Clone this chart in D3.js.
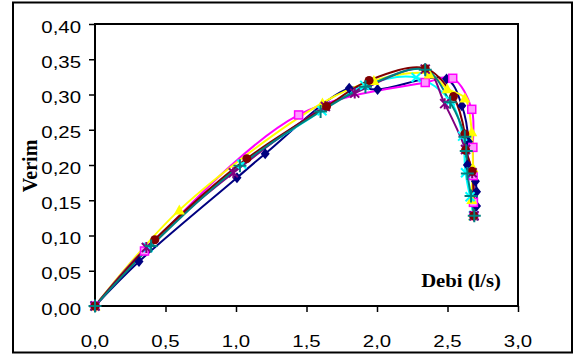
<!DOCTYPE html>
<html>
<head>
<meta charset="utf-8">
<script src="https://cdn.jsdelivr.net/npm/d3@7"></script>
<style>
  body { margin: 0; background: #fff; }
  svg { display: block; }
</style>
</head>
<body>
<svg id="chart" width="574" height="360"></svg>
<script>
// debi (l/s) vs verim, seven runs
const q1 = [0, 0.312, 1.007, 1.207, 1.803, 2.004, 2.493, 2.602, 2.649, 2.641, 2.698, 2.706, 2.706, 2.69];
const e1 = [0, 0.063, 0.182, 0.216, 0.309, 0.307, 0.322, 0.284, 0.233, 0.200, 0.177, 0.162, 0.142, 0.129];
const q2 = [0, 0.351, 1.444, 2.342, 2.537, 2.672, 2.680, 2.682, 2.684, 2.686];
const e2 = [0, 0.078, 0.271, 0.317, 0.323, 0.279, 0.225, 0.185, 0.147, 0.128];
const q3 = [0, 0.598, 1.613, 1.978, 2.37, 2.498, 2.623, 2.672, 2.68, 2.672, 2.684];
const e3 = [0, 0.136, 0.288, 0.320, 0.329, 0.308, 0.295, 0.247, 0.196, 0.151, 0.128];
const q4 = [0, 0.375, 1.041, 1.61, 1.913, 2.277, 2.52, 2.607, 2.628, 2.66, 2.684];
const e4 = [0, 0.083, 0.201, 0.277, 0.313, 0.324, 0.291, 0.241, 0.189, 0.155, 0.128];
const q5 = [0, 0.364, 0.981, 1.634, 1.842, 2.342, 2.48, 2.628, 2.675, 2.688];
const e5 = [0, 0.083, 0.189, 0.283, 0.302, 0.336, 0.287, 0.222, 0.189, 0.128];
const q6 = [0, 0.424, 1.077, 1.642, 1.944, 2.342, 2.542, 2.623, 2.628, 2.675, 2.686];
const e6 = [0, 0.094, 0.209, 0.283, 0.320, 0.337, 0.297, 0.244, 0.221, 0.191, 0.128];
const q7 = [0, 0.398, 1.028, 1.600, 1.918, 2.342, 2.519, 2.623, 2.633, 2.641, 2.667, 2.690];
const e7 = [0, 0.085, 0.199, 0.276, 0.311, 0.335, 0.289, 0.240, 0.220, 0.188, 0.156, 0.128];

const xTicks = [0, 0.5, 1.0, 1.5, 2.0, 2.5, 3.0];
const yTicks = [0, 0.05, 0.10, 0.15, 0.20, 0.25, 0.30, 0.35, 0.40];

const series = [
  { q: q1, e: e1, color: "#000080", marker: "diamond" },
  { q: q2, e: e2, color: "#ff00ff", marker: "square" },
  { q: q3, e: e3, color: "#ffff00", marker: "triangle" },
  { q: q4, e: e4, color: "#00ffff", marker: "x" },
  { q: q5, e: e5, color: "#800080", marker: "star" },
  { q: q6, e: e6, color: "#800000", marker: "circle" },
  { q: q7, e: e7, color: "#008080", marker: "plus" }
];

const svg = d3.select("#chart");
const plot = { left: 95, right: 518, top: 24, bottom: 306 };

const x = d3.scaleLinear().domain([0, 3]).range([plot.left, plot.right]);
const y = d3.scaleLinear().domain([0, 0.4]).range([plot.bottom, plot.top]);

// outer frame
svg.append("rect")
  .attr("x", 13).attr("y", 2.5).attr("width", 559).attr("height", 350)
  .attr("fill", "none").attr("stroke", "#000").attr("stroke-width", 2);

// plot box
svg.append("rect")
  .attr("x", plot.left).attr("y", plot.top)
  .attr("width", plot.right - plot.left).attr("height", plot.bottom - plot.top)
  .attr("fill", "none").attr("stroke", "#000").attr("stroke-width", 2);

// axes
const xAxis = svg.append("g")
  .attr("transform", `translate(0,${plot.bottom})`)
  .call(d3.axisBottom(x).tickValues(xTicks).tickSize(6).tickFormat(""));
const yAxis = svg.append("g")
  .attr("transform", `translate(${plot.left},0)`)
  .call(d3.axisLeft(y).tickValues(yTicks).tickSize(6).tickFormat(""));
[xAxis, yAxis].forEach(g => {
  g.select(".domain").remove();
  g.selectAll("line").attr("stroke", "#000").attr("stroke-width", 1.5);
});

const labelFont = "'Liberation Sans', Arial, sans-serif";
svg.append("g").selectAll("text")
  .data(xTicks)
  .join("text")
  .attr("transform", d => `translate(${x(d)},347) scale(1.2,1)`)
  .attr("text-anchor", "middle")
  .style("font", `17px ${labelFont}`)
  .text(d => d3.format(".1f")(d).replace(".", ","));

svg.append("g").selectAll("text")
  .data(yTicks)
  .join("text")
  .attr("transform", d => `translate(81,${y(d) + 8.5}) scale(1.2,1)`)
  .attr("text-anchor", "end")
  .style("font", `17px ${labelFont}`)
  .text(d => d3.format(".2f")(d).replace(".", ","));

// axis titles
svg.append("text")
  .attr("transform", "translate(37,166) rotate(-90)")
  .attr("text-anchor", "middle")
  .style("font", "bold 20px 'Liberation Serif', 'Times New Roman', serif")
  .text("Verim");

svg.append("text")
  .attr("transform", "translate(501,287) scale(1.15,1)")
  .attr("text-anchor", "end")
  .style("font", "bold 18px 'Liberation Serif', 'Times New Roman', serif")
  .text("Debi (l/s)");

// smoothed lines
const line = d3.line()
  .x(d => x(d[0]))
  .y(d => y(d[1]))
  .curve(d3.curveCatmullRom.alpha(0.5));

function drawMarker(g, type, color) {
  const s = 4.5;
  if (type === "diamond") {
    g.append("path").attr("d", `M0,${-s - 1}L${s},0L0,${s + 1}L${-s},0Z`).attr("fill", color);
  } else if (type === "square") {
    g.append("rect").attr("x", -s + 0.5).attr("y", -s + 0.5).attr("width", 2 * s - 1).attr("height", 2 * s - 1)
      .attr("fill", "#ff99ff").attr("stroke", color).attr("stroke-width", 1.5);
  } else if (type === "triangle") {
    g.append("path").attr("d", `M0,${-s - 1}L${s + 1},${s}L${-s - 1},${s}Z`).attr("fill", color);
  } else if (type === "circle") {
    g.append("circle").attr("r", s).attr("fill", color);
  } else if (type === "x") {
    g.append("path").attr("d", `M${-s},${-s}L${s},${s}M${-s},${s}L${s},${-s}`)
      .attr("stroke", color).attr("stroke-width", 2);
  } else if (type === "star") {
    g.append("path").attr("d", `M${-s},${-s}L${s},${s}M${-s},${s}L${s},${-s}M0,${-s - 1}L0,${s + 1}`)
      .attr("stroke", color).attr("stroke-width", 2);
  } else if (type === "plus") {
    g.append("path").attr("d", `M${-s - 2},0L${s + 2},0M0,${-s - 2}L0,${s + 2}`)
      .attr("stroke", color).attr("stroke-width", 2);
  }
}

series.forEach(s => {
  const pts = s.q.map((v, i) => [v, s.e[i]]);
  svg.append("path")
    .datum(pts)
    .attr("d", line)
    .attr("fill", "none")
    .attr("stroke", s.color)
    .attr("stroke-width", 2);
});

series.forEach(s => {
  const pts = s.q.map((v, i) => [v, s.e[i]]);
  pts.forEach(p => {
    const g = svg.append("g").attr("transform", `translate(${x(p[0])},${y(p[1])})`);
    drawMarker(g, s.marker, s.color);
  });
});
</script>
</body>
</html>
